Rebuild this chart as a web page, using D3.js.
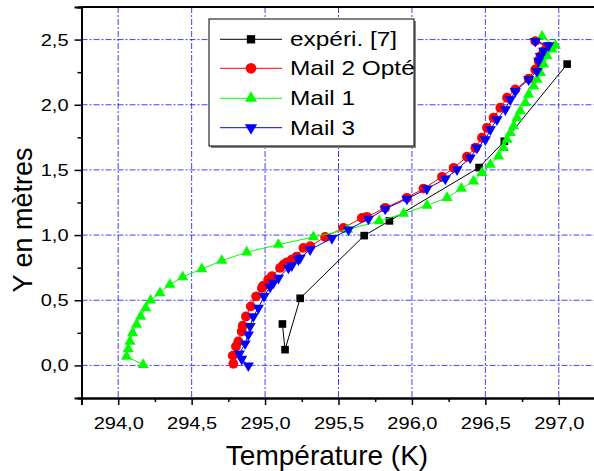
<!DOCTYPE html>
<html>
<head>
<meta charset="utf-8">
<script src="https://cdn.jsdelivr.net/npm/d3@7"></script>
<style>
  body { margin: 0; background: #fff; }
  svg { font-family: "Liberation Sans", Arial, sans-serif; }
</style>
</head>
<body>
<div id="chart"></div>
<script>
// Data (T in K, Y in m)
const seriesNames = ["expéri. [7]", "Mail 2 Opté", "Mail 1", "Mail 3"];

const experiT = [295.118, 295.136, 295.239, 295.675, 295.847, 296.457, 296.629, 297.057];
const experiY = [0.318, 0.121, 0.515, 0.996, 1.109, 1.518, 1.720, 2.312];

const mail2T = [294.784, 294.780, 294.802, 294.818, 294.841, 294.848, 294.870, 294.903, 294.939, 294.978,
  294.988, 295.022, 295.046, 295.102, 295.125, 295.148, 295.182, 295.215, 295.261, 295.307,
  295.409, 295.534, 295.659, 295.693, 295.818, 295.966, 296.079, 296.205, 296.284, 296.375,
  296.432, 296.477, 296.511, 296.556, 296.602, 296.648, 296.704, 296.795, 296.840, 296.863,
  296.875, 296.897, 296.920, 296.840];
const mail2Y = [0.013, 0.075, 0.146, 0.184, 0.261, 0.305, 0.376, 0.453, 0.530, 0.594,
  0.612, 0.658, 0.684, 0.748, 0.773, 0.791, 0.812, 0.835, 0.902, 0.914,
  0.986, 1.055, 1.132, 1.140, 1.209, 1.286, 1.357, 1.447, 1.516, 1.601,
  1.670, 1.747, 1.823, 1.900, 1.977, 2.054, 2.117, 2.200, 2.271, 2.335,
  2.373, 2.412, 2.445, 2.488];

const mail1T = [294.170, 294.057, 294.068, 294.080, 294.098, 294.125, 294.153, 294.187, 294.221, 294.284,
  294.352, 294.439, 294.569, 294.705, 294.875, 295.091, 295.329, 295.562, 295.777, 295.943,
  296.102, 296.239, 296.336, 296.420, 296.477, 296.534, 296.590, 296.624, 296.648, 296.670,
  296.693, 296.716, 296.738, 296.772, 296.795, 296.829, 296.852, 296.875, 296.897, 296.920,
  296.954, 296.977, 296.886];
const mail1Y = [0.005, 0.069, 0.126, 0.184, 0.249, 0.313, 0.376, 0.441, 0.499, 0.556,
  0.620, 0.679, 0.740, 0.804, 0.868, 0.927, 0.985, 1.042, 1.108, 1.165,
  1.227, 1.286, 1.357, 1.413, 1.478, 1.541, 1.605, 1.670, 1.733, 1.785,
  1.836, 1.900, 1.951, 2.015, 2.079, 2.143, 2.194, 2.246, 2.310, 2.373,
  2.425, 2.455, 2.525];

const mail3T = [294.886, 294.841, 294.825, 294.864, 294.886, 294.898, 294.920, 294.954, 294.993, 295.034,
  295.057, 295.091, 295.159, 295.182, 295.227, 295.239, 295.307, 295.455, 295.568, 295.704,
  295.818, 295.966, 296.102, 296.227, 296.307, 296.397, 296.443, 296.500, 296.534, 296.579,
  296.636, 296.670, 296.704, 296.795, 296.852, 296.863, 296.875, 296.897, 296.931, 296.840];
const mail3Y = [-0.002, 0.049, 0.090, 0.167, 0.236, 0.300, 0.376, 0.441, 0.530, 0.602,
  0.633, 0.671, 0.748, 0.766, 0.812, 0.825, 0.889, 0.975, 1.042, 1.124,
  1.201, 1.278, 1.355, 1.432, 1.503, 1.593, 1.670, 1.733, 1.810, 1.887,
  1.964, 2.040, 2.104, 2.194, 2.258, 2.335, 2.373, 2.412, 2.455, 2.488];

const xMajor = [294.0, 294.5, 295.0, 295.5, 296.0, 296.5, 297.0];
const xMinor = [293.75, 294.25, 294.75, 295.25, 295.75, 296.25, 296.75, 297.25];
const yMajor = [0.0, 0.5, 1.0, 1.5, 2.0, 2.5];
const yMinor = [-0.25, 0.25, 0.75, 1.25, 1.75, 2.25, 2.75];

const width = 594, height = 471;

const svg = d3.select("#chart")
  .append("svg")
  .attr("width", width)
  .attr("height", height);

// Scales
const x = d3.scaleLinear().domain([293.75, 297.25]).range([81.5, 595.5]);
const y = d3.scaleLinear().domain([-0.25, 2.75]).range([398, 7]);

const fmt = v => d3.format(".1f")(v).replace(".", ",");

// Grid (dash-dot blue)
const grid = svg.append("g");
grid.selectAll("line.gx").data(xMajor).join("line")
  .attr("x1", d => x(d)).attr("x2", d => x(d))
  .attr("y1", y(2.75)).attr("y2", y(-0.25))
  .attr("stroke", "#0000ff").attr("stroke-opacity", 0.75)
  .attr("stroke-dasharray", "6,2,2,2");
grid.selectAll("line.gy").data(yMajor).join("line")
  .attr("y1", d => y(d)).attr("y2", d => y(d))
  .attr("x1", x(293.75)).attr("x2", x(297.25))
  .attr("stroke", "#0000ff").attr("stroke-opacity", 0.75)
  .attr("stroke-dasharray", "6,2,2,2");

// Axes
const xAxis = svg.append("g")
  .attr("transform", `translate(0,${y(-0.25)})`)
  .call(d3.axisBottom(x).tickValues(xMajor).tickSize(7).tickPadding(12).tickFormat(fmt));
const xAxisMinor = svg.append("g")
  .attr("transform", `translate(0,${y(-0.25)})`)
  .call(d3.axisBottom(x).tickValues(xMinor).tickSize(4).tickFormat(""));
const yAxis = svg.append("g")
  .attr("transform", `translate(${x(293.75)},0)`)
  .call(d3.axisLeft(y).tickValues(yMajor).tickSize(7).tickPadding(4).tickFormat(fmt));
const yAxisMinor = svg.append("g")
  .attr("transform", `translate(${x(293.75)},0)`)
  .call(d3.axisLeft(y).tickValues(yMinor).tickSize(4).tickFormat(""));

[xAxis, xAxisMinor, yAxis, yAxisMinor].forEach(g => {
  g.select(".domain").attr("stroke-width", 2).attr("stroke", "#000");
  g.selectAll(".tick line").attr("stroke-width", 1.5).attr("stroke", "#000");
});
xAxis.selectAll("text").style("font-size", "17px").attr("fill", "#000").attr("transform", "scale(1.18,1)");
yAxis.selectAll("text").style("font-size", "17px").attr("fill", "#000").attr("transform", "scale(1.18,1)");

// top frame
svg.append("line")
  .attr("x1", x(293.75)).attr("x2", x(297.25))
  .attr("y1", y(2.75)).attr("y2", y(2.75))
  .attr("stroke", "#000").attr("stroke-width", 2);

// Axis titles
svg.append("text")
  .attr("x", 327).attr("y", 465)
  .attr("text-anchor", "middle")
  .style("font-size", "28px")
  .text("Température (K)");
svg.append("text")
  .attr("transform", "translate(32,220) rotate(-90)")
  .attr("text-anchor", "middle")
  .style("font-size", "27px")
  .text("Y en mètres");

// Series
const series = [
  {name: seriesNames[0], T: experiT, Y: experiY, color: "#000000", symbol: d3.symbolSquare, size: 58, rot: 0},
  {name: seriesNames[1], T: mail2T, Y: mail2Y, color: "#ff0000", symbol: d3.symbolCircle, size: 76, rot: 0},
  {name: seriesNames[2], T: mail1T, Y: mail1Y, color: "#00ff00", symbol: d3.symbolTriangle, size: 54, rot: 0},
  {name: seriesNames[3], T: mail3T, Y: mail3Y, color: "#0000ff", symbol: d3.symbolTriangle, size: 54, rot: 180}
];

const line = d3.line().x(d => x(d[0])).y(d => y(d[1]));

series.forEach(s => {
  const pts = s.T.map((t, i) => [t, s.Y[i]]);
  const g = svg.append("g");
  g.append("path")
    .datum(pts)
    .attr("d", line)
    .attr("fill", "none")
    .attr("stroke", s.color)
    .attr("stroke-width", 1);
  g.selectAll("path.pt").data(pts).join("path")
    .attr("class", "pt")
    .attr("transform", d => `translate(${x(d[0])},${y(d[1])}) rotate(${s.rot})`)
    .attr("d", d3.symbol().type(s.symbol).size(s.size))
    .attr("fill", s.color);
});

// Legend
const legend = svg.append("g");
legend.append("rect")
  .attr("x", 211).attr("y", 21).attr("width", 205).attr("height", 127)
  .attr("fill", "#888");
legend.append("rect")
  .attr("x", 209).attr("y", 19).attr("width", 205).attr("height", 127)
  .attr("fill", "#fff").attr("stroke", "#000").attr("stroke-width", 1);

const rowY = [39.3, 68.3, 98.3, 127.7];
series.forEach((s, i) => {
  legend.append("line")
    .attr("x1", 220).attr("x2", 282)
    .attr("y1", rowY[i]).attr("y2", rowY[i])
    .attr("stroke", s.color).attr("stroke-width", 1);
  legend.append("path")
    .attr("transform", `translate(251,${rowY[i]}) rotate(${s.rot})`)
    .attr("d", d3.symbol().type(s.symbol).size(s.size * 1.2))
    .attr("fill", s.color);
  legend.append("text")
    .attr("transform", `translate(290,${rowY[i] + 7}) scale(1.22,1)`)
    .style("font-size", "20px")
    .text(s.name);
});
</script>
</body>
</html>
